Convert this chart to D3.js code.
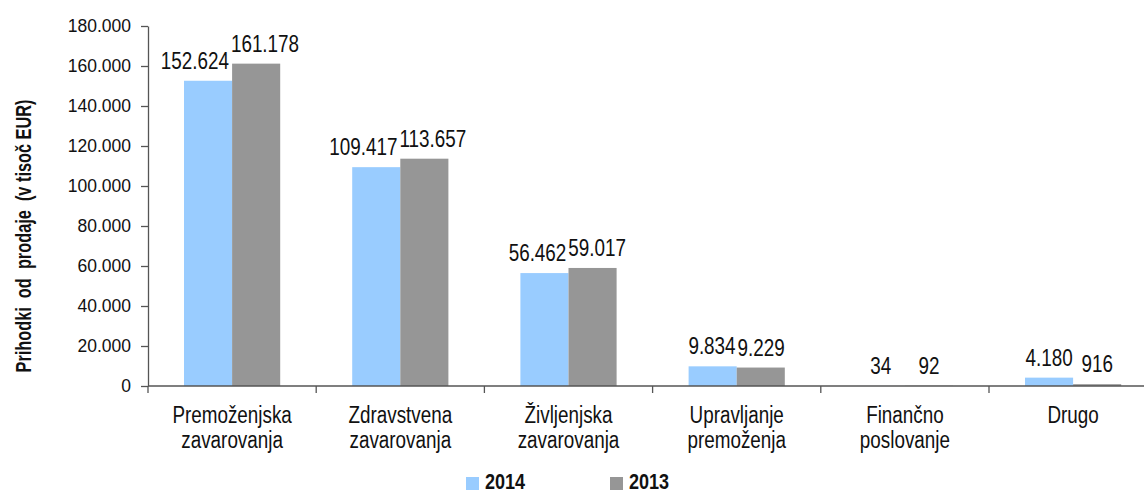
<!DOCTYPE html>
<html>
<head>
<meta charset="utf-8">
<script src="https://cdn.jsdelivr.net/npm/d3@7"></script>
<style>
  body { margin: 0; background: #fff; }
  svg { display: block; }
  text { font-family: "Liberation Sans", Arial, sans-serif; }
</style>
</head>
<body>
<svg width="1144" height="493"></svg>
<script>
var categories = [
    ["Premoženjska", "zavarovanja"],
    ["Zdravstvena", "zavarovanja"],
    ["Življenjska", "zavarovanja"],
    ["Upravljanje", "premoženja"],
    ["Finančno", "poslovanje"],
    ["Drugo"]
];
var series = ["2014", "2013"];
var values2014 = [152624, 109417, 56462, 9834, 34, 4180];
var values2013 = [161178, 113657, 59017, 9229, 92, 916];
var yTicks = [0, 20000, 40000, 60000, 80000, 100000, 120000, 140000, 160000, 180000];
var colors = ["#99ccff", "#969696"];

// no narrow font installed, so squeeze the regular one horizontally
var NARROW = 0.82;

var fmt = function (v) {
    // thousands separator is a dot
    return d3.format(",")(v).replace(/,/g, ".");
};

var svg = d3.select("svg"),
    margin = {top: 26, left: 148},
    plotH = 360,
    bandW = 168.2,
    g = svg.append("g").attr("transform", "translate(" + margin.left + "," + margin.top + ")");

var catIdx = d3.range(categories.length);

var x0 = d3.scaleBand()
    .domain(catIdx)
    .range([0, bandW * categories.length])
    .padding(0);

var x1 = d3.scaleBand()
    .domain(series)
    .range([36, bandW - 36])
    .padding(0);

var y = d3.scaleLinear()
    .domain([0, 180000])
    .range([plotH, 0]);

var data = catIdx.map(function (i) {
    return {i: i, vals: [values2014[i], values2013[i]]};
});

function at(x, yy) {
    return "translate(" + x + "," + yy + ") scale(" + NARROW + ",1)";
}

// bars
var groups = g.selectAll(".cat")
    .data(data)
    .enter().append("g")
    .attr("class", "cat")
    .attr("transform", function (d) { return "translate(" + x0(d.i) + ",0)"; });

groups.selectAll("rect")
    .data(function (d) { return d.vals.map(function (v, k) { return {s: series[k], v: v, k: k}; }); })
    .enter().append("rect")
    .attr("x", function (d) { return x1(d.s); })
    .attr("y", function (d) { return y(d.v); })
    .attr("width", x1.bandwidth())
    .attr("height", function (d) { return plotH - y(d.v); })
    .attr("fill", function (d) { return colors[d.k]; });

// y axis
var yAxis = g.append("g")
    .call(d3.axisLeft(y).tickValues(yTicks).tickSize(7).tickSizeOuter(0).tickPadding(10).tickFormat(fmt));
yAxis.select(".domain").attr("stroke", "#555").attr("stroke-width", 1.3);
yAxis.selectAll(".tick line").attr("stroke", "#555").attr("stroke-width", 1.3);
yAxis.selectAll(".tick text")
    .attr("fill", "#111")
    .style("font-family", "'Liberation Sans', Arial, sans-serif")
    .style("font-size", "17.5px");

// x axis (ticks at category boundaries)
var xAxisG = g.append("g").attr("transform", "translate(0," + plotH + ")");
xAxisG.append("line")
    .attr("x1", 0).attr("x2", x0.range()[1])
    .attr("stroke", "#555").attr("stroke-width", 1.3);
xAxisG.selectAll(".xtick")
    .data(catIdx.concat([categories.length]))
    .enter().append("line")
    .attr("class", "xtick")
    .attr("x1", function (i) { return i * x0.step(); })
    .attr("x2", function (i) { return i * x0.step(); })
    .attr("y1", 0).attr("y2", 7)
    .attr("stroke", "#555").attr("stroke-width", 1.3);

var catText = xAxisG.selectAll(".catlabel")
    .data(data)
    .enter().append("text")
    .attr("class", "catlabel")
    .attr("text-anchor", "middle")
    .attr("fill", "#111")
    .style("font-size", "23px")
    .attr("transform", function (d) { return at(x0(d.i) + x0.bandwidth() / 2, 37); });
catText.selectAll("tspan")
    .data(function (d) { return categories[d.i]; })
    .enter().append("tspan")
    .attr("x", 0)
    .attr("y", function (d, k) { return k * 25; })
    .text(function (d) { return d; });

// data labels, pushed apart when they collide
groups.each(function (d) {
    var grp = d3.select(this);
    var labels = d.vals.map(function (v, k) {
        var t = grp.append("text")
            .attr("text-anchor", "middle")
            .attr("fill", "#111")
            .style("font-size", "23px")
            .text(fmt(v));
        return {t: t, c: x1(series[k]) + x1.bandwidth() / 2, yy: y(v) - 12,
                w: t.node().getComputedTextLength() * NARROW};
    });
    var a = labels[0], b = labels[1];
    var overlap = (a.c + a.w / 2 + 2) - (b.c - b.w / 2);
    if (overlap > 0) {
        a.c -= overlap * 0.6;
        b.c += overlap * 0.4;
    }
    labels.forEach(function (l) { l.t.attr("transform", at(l.c, l.yy)); });
});

// y axis title
svg.append("text")
    .attr("transform", "translate(31," + (margin.top + 210) + ") rotate(-90) scale(0.76,1)")
    .attr("text-anchor", "middle")
    .attr("fill", "#111")
    .style("font-size", "21.5px")
    .style("font-weight", "bold")
    .style("white-space", "pre")
    .text("Prihodki  od  prodaje  (v tisoč EUR)");

// legend
var legend = svg.selectAll(".legend")
    .data(series)
    .enter().append("g")
    .attr("class", "legend")
    .attr("transform", function (d, i) { return "translate(" + (466 + i * 144) + ",477)"; });

legend.append("rect")
    .attr("width", 13)
    .attr("height", 13)
    .attr("fill", function (d, i) { return colors[i]; });

legend.append("text")
    .attr("transform", at(19, 12))
    .attr("fill", "#111")
    .style("font-size", "22px")
    .style("font-weight", "bold")
    .text(function (d) { return d; });
</script>
</body>
</html>
